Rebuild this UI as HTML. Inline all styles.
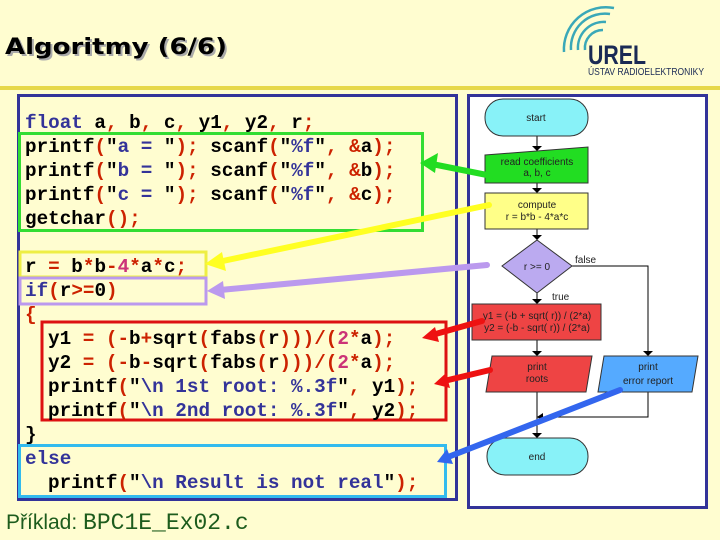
<!DOCTYPE html>
<html><head><meta charset="utf-8"><style>
html,body{margin:0;padding:0;background:#fffdd0;}
svg{display:block}
.c{font-family:"Liberation Mono",monospace;font-weight:bold;font-size:19.3px;}
.k{fill:#333399}.p{fill:#cc2200}.s{fill:#333399}.n{fill:#cc3377}
.f{font-family:"Liberation Sans",sans-serif;font-size:10px;fill:#222}
</style></head><body>
<svg width="720" height="540" viewBox="0 0 720 540" xmlns="http://www.w3.org/2000/svg">
<rect width="720" height="540" fill="#fffdd0"/>
<text x="7" y="56" font-family="DejaVu Sans,sans-serif" font-weight="bold" font-size="22" fill="#aaa" textLength="222" lengthAdjust="spacingAndGlyphs">Algoritmy (6/6)</text>
<text x="5" y="54" font-family="DejaVu Sans,sans-serif" font-weight="bold" font-size="22" fill="#000" textLength="222" lengthAdjust="spacingAndGlyphs">Algoritmy (6/6)</text>
<!-- logo -->
<g fill="none" stroke="#3aa8b8" stroke-width="2.5">
<path d="M585 50 A18 18 0 0 1 603 30"/><path d="M578 50 A26 26 0 0 1 606 22"/><path d="M571 50 A34 34 0 0 1 610 14"/><path d="M564 52 A42 42 0 0 1 614 8"/>
</g>
<text x="588" y="64" font-family="Liberation Sans,sans-serif" font-weight="bold" font-size="27" fill="#1a2a55" textLength="58" lengthAdjust="spacingAndGlyphs">UREL</text>
<text x="588" y="75" font-family="Liberation Sans,sans-serif" font-size="10" fill="#1a2a55" textLength="116" lengthAdjust="spacingAndGlyphs">ÚSTAV RADIOELEKTRONIKY</text>
<rect x="0" y="86" width="720" height="4" fill="#e6d84a"/>
<!-- panels -->
<rect x="18.5" y="95.5" width="438" height="404" fill="#fffdd0" stroke="#333399" stroke-width="3"/>
<rect x="468.5" y="95.5" width="238" height="412" fill="#fff" stroke="#333399" stroke-width="3"/>
<!-- code boxes -->
<rect x="19.5" y="133.5" width="403" height="97" fill="none" stroke="#33dd33" stroke-width="3"/>
<rect x="20" y="252" width="186" height="25" fill="none" stroke="#eeee44" stroke-width="3"/>
<rect x="20" y="278" width="186" height="26" fill="none" stroke="#bb99ee" stroke-width="3"/>
<rect x="42" y="322" width="404" height="98" fill="none" stroke="#dd1111" stroke-width="3"/>
<rect x="19.5" y="445.5" width="426" height="51" fill="none" stroke="#33bbee" stroke-width="3"/>
<!-- code -->
<g class="c">
<text x="25" y="128"><tspan class="k">float</tspan> a<tspan class="p">,</tspan> b<tspan class="p">,</tspan> c<tspan class="p">,</tspan> y1<tspan class="p">,</tspan> y2<tspan class="p">,</tspan> r<tspan class="p">;</tspan></text>
<text x="25" y="152">printf<tspan class="p">(</tspan>"<tspan class="s">a = </tspan>"<tspan class="p">);</tspan> scanf<tspan class="p">(</tspan>"<tspan class="s">%f</tspan>"<tspan class="p">,</tspan> <tspan class="p">&amp;</tspan>a<tspan class="p">);</tspan></text>
<text x="25" y="176">printf<tspan class="p">(</tspan>"<tspan class="s">b = </tspan>"<tspan class="p">);</tspan> scanf<tspan class="p">(</tspan>"<tspan class="s">%f</tspan>"<tspan class="p">,</tspan> <tspan class="p">&amp;</tspan>b<tspan class="p">);</tspan></text>
<text x="25" y="200">printf<tspan class="p">(</tspan>"<tspan class="s">c = </tspan>"<tspan class="p">);</tspan> scanf<tspan class="p">(</tspan>"<tspan class="s">%f</tspan>"<tspan class="p">,</tspan> <tspan class="p">&amp;</tspan>c<tspan class="p">);</tspan></text>
<text x="25" y="224">getchar<tspan class="p">();</tspan></text>
<text x="25" y="272">r <tspan class="p">=</tspan> b<tspan class="p">*</tspan>b<tspan class="p">-</tspan><tspan class="n">4</tspan><tspan class="p">*</tspan>a<tspan class="p">*</tspan>c<tspan class="p">;</tspan></text>
<text x="25" y="296"><tspan class="k">if</tspan><tspan class="p">(</tspan>r<tspan class="p">&gt;=</tspan>0<tspan class="p">)</tspan></text>
<text x="25" y="320" class="p">{</text>
<text x="48" y="344">y1 <tspan class="p">=</tspan> <tspan class="p">(-</tspan>b<tspan class="p">+</tspan>sqrt<tspan class="p">(</tspan>fabs<tspan class="p">(</tspan>r<tspan class="p">)))/(</tspan><tspan class="n">2</tspan><tspan class="p">*</tspan>a<tspan class="p">);</tspan></text>
<text x="48" y="368">y2 <tspan class="p">=</tspan> <tspan class="p">(-</tspan>b<tspan class="p">-</tspan>sqrt<tspan class="p">(</tspan>fabs<tspan class="p">(</tspan>r<tspan class="p">)))/(</tspan><tspan class="n">2</tspan><tspan class="p">*</tspan>a<tspan class="p">);</tspan></text>
<text x="48" y="392">printf<tspan class="p">(</tspan>"<tspan class="s">\n 1st root: %.3f</tspan>"<tspan class="p">,</tspan> y1<tspan class="p">);</tspan></text>
<text x="48" y="416">printf<tspan class="p">(</tspan>"<tspan class="s">\n 2nd root: %.3f</tspan>"<tspan class="p">,</tspan> y2<tspan class="p">);</tspan></text>
<text x="25" y="440">}</text>
<text x="25" y="464" class="k">else</text>
<text x="48" y="488">printf<tspan class="p">(</tspan>"<tspan class="s">\n Result is not real</tspan>"<tspan class="p">);</tspan></text>
</g>
<text x="6" y="529" font-family="Liberation Sans,sans-serif" font-size="21" fill="#1d5c1d">Příklad: <tspan font-family="Liberation Mono,monospace" font-size="23">BPC1E_Ex02.c</tspan></text>
<!-- flowchart -->
<g stroke="#000" stroke-width="1" fill="none">
<line x1="537" y1="136" x2="537" y2="149"/><line x1="537" y1="183" x2="537" y2="193"/><line x1="537" y1="229" x2="537" y2="240"/><line x1="537" y1="293" x2="537" y2="304"/><line x1="537" y1="340" x2="537" y2="356"/>
<line x1="537" y1="392" x2="537" y2="438"/>
<polyline points="572,266 648,266 648,356"/>
<polyline points="648,392 648,417 537,417"/>
</g>
<g fill="#000">
<path d="M532 146 L542 146 L537 151Z"/><path d="M532 188 L542 188 L537 193Z"/><path d="M532 235 L542 235 L537 240Z"/><path d="M532 299 L542 299 L537 304Z"/><path d="M532 351 L542 351 L537 356Z"/><path d="M643 351 L653 351 L648 356Z"/><path d="M532 433 L542 433 L537 438Z"/><path d="M537 417 L543 413 L543 421Z"/>
</g>
<rect x="485" y="99" width="103" height="37" rx="18" fill="#88f2f8" stroke="#333"/>
<text x="536" y="121" text-anchor="middle" class="f" font-family="Liberation Serif">start</text>
<path d="M485 155 L588 147 L588 183 L485 183Z" fill="#22dd22" stroke="#333"/>
<text x="537" y="165" text-anchor="middle" class="f">read coefficients</text>
<text x="537" y="176" text-anchor="middle" class="f">a, b, c</text>
<rect x="485" y="193" width="103" height="36" fill="#ffff88" stroke="#333"/>
<text x="537" y="208" text-anchor="middle" class="f">compute</text>
<text x="537" y="220" text-anchor="middle" class="f">r = b*b - 4*a*c</text>
<path d="M537 240 L572 266 L537 293 L502 266Z" fill="#bbaaf0" stroke="#333"/>
<text x="537" y="270" text-anchor="middle" class="f">r &gt;= 0</text>
<text x="575" y="263" class="f">false</text>
<text x="552" y="300" class="f">true</text>
<rect x="472" y="304" width="129" height="36" fill="#ee4444" stroke="#333"/>
<text x="537" y="319" text-anchor="middle" class="f">y1 = (-b + sqrt( r)) / (2*a)</text>
<text x="537" y="331" text-anchor="middle" class="f">y2 = (-b - sqrt( r)) / (2*a)</text>
<path d="M492 356 L592 356 L586 392 L486 392Z" fill="#ee4444" stroke="#333"/>
<text x="537" y="370" text-anchor="middle" class="f">print</text>
<text x="537" y="382" text-anchor="middle" class="f">roots</text>
<path d="M604 356 L698 356 L692 392 L598 392Z" fill="#55aaff" stroke="#333"/>
<text x="648" y="370" text-anchor="middle" class="f">print</text>
<text x="648" y="384" text-anchor="middle" class="f">error report</text>
<rect x="487" y="438" width="101" height="37" rx="18" fill="#88f2f8" stroke="#333"/>
<text x="537" y="460" text-anchor="middle" class="f" font-family="Liberation Serif">end</text>
<!-- arrows -->
<g stroke-width="6" stroke-linecap="round">
<line x1="492" y1="176" x2="432" y2="164" stroke="#22dd22"/>
<line x1="489" y1="205" x2="218" y2="262" stroke="#ffff22"/>
<line x1="487" y1="265" x2="220" y2="290" stroke="#bb99ee"/>
<line x1="482" y1="321" x2="432" y2="335" stroke="#ee1111"/>
<line x1="490" y1="370" x2="444" y2="381" stroke="#ee1111"/>
<line x1="620" y1="390" x2="448" y2="457" stroke="#3366ee"/>
</g>
<path d="M420 163 L438 153 L435 173Z" fill="#22dd22"/>
<path d="M205 264 L222 252 L226 271Z" fill="#ffff22"/>
<path d="M207 291 L223 281 L225 299Z" fill="#bb99ee"/>
<path d="M422 338 L435 327 L439 342Z" fill="#ee1111"/>
<path d="M434 384 L446 373 L450 388Z" fill="#ee1111"/>
<path d="M437 462 L447 449 L453 464Z" fill="#3366ee"/>
</svg>
</body></html>
